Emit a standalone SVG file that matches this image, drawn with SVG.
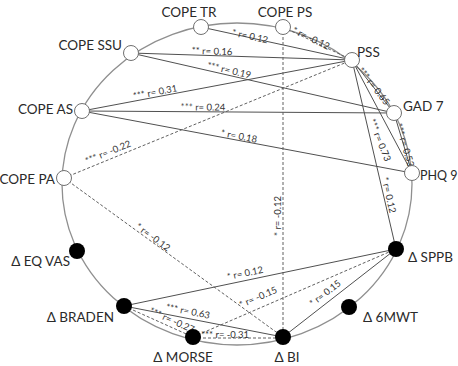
<svg xmlns="http://www.w3.org/2000/svg" width="458" height="366" viewBox="0 0 458 366">
<style>
.ring{fill:none;stroke:#8f8f8f;stroke-width:1.3}
.s{stroke:#505050;stroke-width:1;fill:none}
.d{stroke:#606060;stroke-width:1;fill:none;stroke-dasharray:3 2}
.o{fill:#fff;stroke:#707070;stroke-width:1}
.f{fill:#000}
.n{font-family:Lato,"Open Sans","Liberation Sans",sans-serif;font-size:13.5px;fill:#2a2a2a}
.l{font-family:Lato,"Open Sans","Liberation Sans",sans-serif;font-size:9.5px;fill:#333;text-anchor:middle;dominant-baseline:central}
</style>
<rect width="458" height="366" fill="#fff"/>
<ellipse class="ring" cx="237" cy="184" rx="175" ry="161"/>
<g id="connectors">
<line class="s" x1="201" y1="27" x2="352" y2="60"/>
<line class="d" x1="283" y1="27" x2="352" y2="60"/>
<line class="s" x1="131" y1="53" x2="352" y2="60"/>
<line class="s" x1="131" y1="53" x2="394" y2="113"/>
<line class="s" x1="82" y1="111" x2="352" y2="60"/>
<line class="s" x1="82" y1="111" x2="394" y2="113"/>
<line class="s" x1="82" y1="111" x2="412" y2="173"/>
<line class="d" x1="64" y1="178" x2="352" y2="60"/>
<line class="d" x1="64" y1="178" x2="283" y2="337"/>
<line class="d" x1="283" y1="27" x2="283" y2="337"/>
<line class="s" x1="352" y1="60" x2="394" y2="113"/>
<line class="s" x1="394" y1="113" x2="412" y2="173"/>
<line class="s" x1="352" y1="60" x2="412" y2="173"/>
<line class="s" x1="352" y1="60" x2="396" y2="249"/>
<line class="s" x1="124" y1="306" x2="396" y2="249"/>
<line class="d" x1="193" y1="337" x2="396" y2="249"/>
<line class="s" x1="283" y1="337" x2="396" y2="249"/>
<line class="s" x1="124" y1="306" x2="283" y2="337"/>
<line class="d" x1="124" y1="306" x2="193" y2="337"/>
<line class="d" x1="193" y1="338" x2="283" y2="338"/>
<text class="l" transform="translate(250,36) rotate(12.3)">* r= 0.12</text>
<text class="l" transform="translate(311,38) rotate(25.6)">* r= -0.12</text>
<text class="l" transform="translate(212,51) rotate(1.8)">** r= 0.16</text>
<text class="l" transform="translate(229,70) rotate(12.9)">*** r= 0.19</text>
<text class="l" transform="translate(155,92) rotate(-10.7)">*** r= 0.31</text>
<text class="l" transform="translate(203,107) rotate(0.4)">*** r= 0.24</text>
<text class="l" transform="translate(239,136) rotate(10.6)">* r= 0.18</text>
<text class="l" transform="translate(108,152) rotate(-22.3)">*** r= -0.22</text>
<text class="l" transform="translate(153,237) rotate(36)">* r= -0.12</text>
<text class="l" transform="translate(277,216) rotate(-90)">* r= -0.12</text>
<text class="l" transform="translate(374,86) rotate(51.6)">*** r= 0.65</text>
<text class="l" transform="translate(405,145) rotate(73.3)">*** r= 0.53</text>
<text class="l" transform="translate(380,140) rotate(68)">*** r= 0.73</text>
<text class="l" transform="translate(389,195) rotate(76.9)">* r= 0.12</text>
<text class="l" transform="translate(245,273) rotate(-11.8)">* r= 0.12</text>
<text class="l" transform="translate(258,297) rotate(-23.4)">* r= -0.15</text>
<text class="l" transform="translate(325,293) rotate(-37.9)">* r= 0.15</text>
<text class="l" transform="translate(188,311) rotate(11)">*** r= 0.63</text>
<text class="l" transform="translate(172,320) rotate(24.2)">*** r= -0.27</text>
<text class="l" transform="translate(225,334)">*** r= -0.31</text>
</g>
<g id="cope-tr"><circle class="o" cx="201" cy="27" r="7.5"/><text class="n" x="189" y="17" text-anchor="middle">COPE TR</text></g>
<g id="cope-ps"><circle class="o" cx="283" cy="27" r="7.5"/><text class="n" x="285" y="17" text-anchor="middle">COPE PS</text></g>
<g id="pss"><circle class="o" cx="352" cy="60" r="7.5"/><text class="n" x="357" y="57">PSS</text></g>
<g id="gad7"><circle class="o" cx="394" cy="113" r="7.5"/><text class="n" x="403" y="111">GAD 7</text></g>
<g id="phq9"><circle class="o" cx="412" cy="173" r="7.5"/><text class="n" x="420" y="180" style="font-size:12.5px">PHQ 9</text></g>
<g id="cope-ssu"><circle class="o" cx="131" cy="53" r="7.5"/><text class="n" x="122" y="50" text-anchor="end">COPE SSU</text></g>
<g id="cope-as"><circle class="o" cx="82" cy="111" r="7.5"/><text class="n" x="73" y="114" text-anchor="end">COPE AS</text></g>
<g id="cope-pa"><circle class="o" cx="64" cy="178" r="7.5"/><text class="n" x="55" y="184" text-anchor="end">COPE PA</text></g>
<g id="eq-vas"><circle class="f" cx="77" cy="251" r="8"/><text class="n" x="70" y="266" text-anchor="end">Δ EQ VAS</text></g>
<g id="braden"><circle class="f" cx="124" cy="306" r="8"/><text class="n" x="114" y="322" text-anchor="end">Δ BRADEN</text></g>
<g id="morse"><circle class="f" cx="193" cy="337" r="8"/><text class="n" x="183" y="362" text-anchor="middle">Δ  MORSE</text></g>
<g id="bi"><circle class="f" cx="283" cy="337" r="8"/><text class="n" x="287" y="362" text-anchor="middle">Δ BI</text></g>
<g id="sppb"><circle class="f" cx="396" cy="249" r="8"/><text class="n" x="408" y="262">Δ SPPB</text></g>
<g id="6mwt"><circle class="f" cx="349" cy="307" r="8"/><text class="n" x="363" y="322">Δ 6MWT</text></g>
</svg>
